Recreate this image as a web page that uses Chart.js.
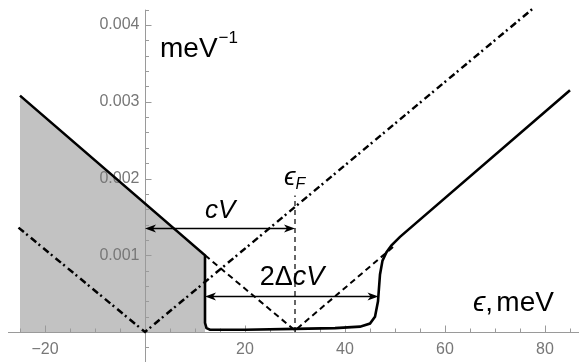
<!DOCTYPE html>
<html>
<head>
<meta charset="utf-8">
<script src="https://cdn.jsdelivr.net/npm/chart.js@4/dist/chart.umd.min.js"></script>
<style>
  body { margin: 0; background: #fff; }
  canvas { display: block; }
</style>
</head>
<body>
<canvas id="chart" width="579" height="362"></canvas>
<script>
// gapped density of states (solid)
const gapX = [-25, 12, 12, 12.3, 13, 20, 30, 38, 43, 45, 46, 46.6, 47, 47.5, 48.3, 49.3, 51, 85];
const gapY = [0.00308, 0.00100, 0.00012, 0.00005, 0.00003, 0.00003, 0.00004, 0.00005, 0.00007,
  0.00011, 0.00020, 0.00040, 0.00075, 0.00093, 0.00104, 0.00113, 0.00124, 0.00315];

// occupied part (gray shading)
const occX = [-25, 12, 12];
const occY = [0.00308, 0.00100, 0];

// normal state shifted to the Fermi level (dashed)
const shiftX = [12, 30, 50];
const shiftY = [0.00100, 0.00002, 0.00113];

// normal state around zero (dash-dot)
const normX = [-25.3, 0, 77.5];
const normY = [0.00136, 0, 0.00421];

// Fermi level marker
const fermiX = [30, 30];
const fermiY = [0, 0.00178];

// axis ticks
const xMajor = [-20, 20, 40, 60, 80];
const yMajor = [0.001, 0.002, 0.003, 0.004];
const xMinorStep = 5;
const yMinorStep = 0.0002;

function pts(xs, ys) {
  return xs.map((x, i) => ({ x: x, y: ys[i] }));
}

const FONT = '"Liberation Sans", Arial, "DejaVu Sans", sans-serif';

function arrowHead(ctx, x, y, dir) {
  ctx.beginPath();
  ctx.moveTo(x, y);
  ctx.lineTo(x - dir * 11, y - 4);
  ctx.lineTo(x - dir * 8, y);
  ctx.lineTo(x - dir * 11, y + 4);
  ctx.closePath();
  ctx.fill();
}

function doubleArrow(chart, x1, x2, yv) {
  const ctx = chart.ctx;
  const xs = chart.scales.x, ys = chart.scales.y;
  const p1 = xs.getPixelForValue(x1), p2 = xs.getPixelForValue(x2);
  const py = Math.round(ys.getPixelForValue(yv)) + 0.5;
  ctx.save();
  ctx.strokeStyle = '#000';
  ctx.fillStyle = '#000';
  ctx.lineWidth = 1.5;
  ctx.beginPath();
  ctx.moveTo(p1 + 4, py);
  ctx.lineTo(p2 - 4, py);
  ctx.stroke();
  arrowHead(ctx, p1, py, -1);
  arrowHead(ctx, p2, py, 1);
  ctx.restore();
}

const axesPlugin = {
  id: 'mmaAxes',
  afterDatasetDraw(chart, args) {
    if (chart.data.datasets[args.index].label !== 'occupied') return;
    const ctx = chart.ctx;
    const xs = chart.scales.x, ys = chart.scales.y;
    const x0 = Math.round(xs.getPixelForValue(0)) + 0.5;
    const y0 = Math.round(ys.getPixelForValue(0)) + 0.5;
    ctx.save();
    ctx.strokeStyle = '#9a9a9a';
    ctx.lineWidth = 1;
    ctx.beginPath();
    ctx.moveTo(xs.getPixelForValue(-27.4), y0);
    ctx.lineTo(chart.width, y0);
    ctx.moveTo(x0, ys.getPixelForValue(0.0042));
    ctx.lineTo(x0, chart.height);
    // x ticks (pointing up)
    for (let v = -25; v <= 86; v += xMinorStep) {
      if (v === 0) continue;
      const px = Math.round(xs.getPixelForValue(v)) + 0.5;
      const len = xMajor.includes(v) ? 7 : 4;
      ctx.moveTo(px, y0);
      ctx.lineTo(px, y0 - len);
    }
    // y ticks (pointing right)
    for (let k = -1; k <= 21; k++) {
      if (k === 0) continue;
      const v = k * yMinorStep;
      const py = Math.round(ys.getPixelForValue(v)) + 0.5;
      const len = (k % 5 === 0) ? 6 : 3.5;
      ctx.moveTo(x0, py);
      ctx.lineTo(x0 + len, py);
    }
    ctx.stroke();

    ctx.fillStyle = '#777';
    ctx.font = '16px ' + FONT;
    ctx.textAlign = 'center';
    ctx.textBaseline = 'middle';
    xMajor.forEach(v => {
      const lbl = v < 0 ? '\u2212' + Math.abs(v) : String(v);
      ctx.fillText(lbl, xs.getPixelForValue(v), y0 + 17);
    });
    ctx.textAlign = 'right';
    yMajor.forEach(v => {
      ctx.fillText(v.toFixed(3), x0 - 6, ys.getPixelForValue(v));
    });
    ctx.restore();
  },
  afterDatasetsDraw(chart) {
    const ctx = chart.ctx;
    const xs = chart.scales.x;
    doubleArrow(chart, 0, 30, 0.00135);
    doubleArrow(chart, 12, 46.7, 0.00047);

    ctx.save();
    ctx.fillStyle = '#000';
    ctx.textBaseline = 'alphabetic';
    ctx.textAlign = 'left';

    // y unit
    ctx.font = '28px ' + FONT;
    ctx.fillText('meV', 160, 57);
    let w = ctx.measureText('meV').width;
    ctx.font = '17px ' + FONT;
    ctx.fillText('\u22121', 160 + w + 1, 43);

    // x unit
    ctx.font = 'italic 28px ' + FONT;
    ctx.fillText('\u03f5', 473, 311);
    w = ctx.measureText('\u03f5').width;
    ctx.font = '28px ' + FONT;
    ctx.fillText(',', 473 + w, 311);
    ctx.fillText('meV', 473 + w + 11, 311);

    // Fermi level label
    const fx = xs.getPixelForValue(30);
    ctx.font = 'italic 26px ' + FONT;
    ctx.fillText('\u03f5', fx - 11, 185);
    w = ctx.measureText('\u03f5').width;
    ctx.font = 'italic 16px ' + FONT;
    ctx.fillText('F', fx - 11 + w, 189);

    // cV
    ctx.font = 'italic 26px ' + FONT;
    ctx.fillText('cV', xs.getPixelForValue(12), 218);

    // 2ΔcV
    ctx.font = '27px ' + FONT;
    const a = '2\u0394';
    const wa = ctx.measureText(a).width;
    ctx.font = 'italic 27px ' + FONT;
    const wb = ctx.measureText('cV').width;
    const left = xs.getPixelForValue(29.4) - (wa + wb) / 2;
    ctx.font = '27px ' + FONT;
    ctx.fillText(a, left, 285);
    ctx.font = 'italic 27px ' + FONT;
    ctx.fillText('cV', left + wa, 285);
    ctx.restore();
  }
};

new Chart(document.getElementById('chart'), {
  type: 'scatter',
  data: {
    datasets: [
      {
        label: 'gapped',
        data: pts(gapX, gapY),
        showLine: true,
        borderColor: '#000',
        borderWidth: 2.6,
        pointRadius: 0,
        tension: 0,
        order: 1
      },
      {
        label: 'shifted',
        data: pts(shiftX, shiftY),
        showLine: true,
        borderColor: '#000',
        borderWidth: 2,
        borderDash: [6, 4],
        pointRadius: 0,
        order: 2
      },
      {
        label: 'normal',
        data: pts(normX, normY),
        showLine: true,
        borderColor: '#000',
        borderWidth: 2.5,
        borderDash: [7, 3, 2, 4],
        pointRadius: 0,
        order: 3
      },
      {
        label: 'fermi',
        data: pts(fermiX, fermiY),
        showLine: true,
        borderColor: '#000',
        borderWidth: 1.2,
        borderDash: [5, 4],
        pointRadius: 0,
        order: 4
      },
      {
        label: 'occupied',
        data: pts(occX, occY),
        showLine: true,
        borderWidth: 0,
        borderColor: 'rgba(0,0,0,0)',
        backgroundColor: '#c2c2c2',
        fill: 'origin',
        pointRadius: 0,
        order: 10
      }
    ]
  },
  options: {
    responsive: false,
    devicePixelRatio: 1,
    animation: false,
    layout: { padding: 0 },
    plugins: {
      legend: { display: false },
      tooltip: { enabled: false }
    },
    scales: {
      x: { type: 'linear', min: -29, max: 86.8, display: false },
      y: { type: 'linear', min: -0.000391, max: 0.004326, display: false }
    }
  },
  plugins: [axesPlugin]
});
</script>
</body>
</html>
